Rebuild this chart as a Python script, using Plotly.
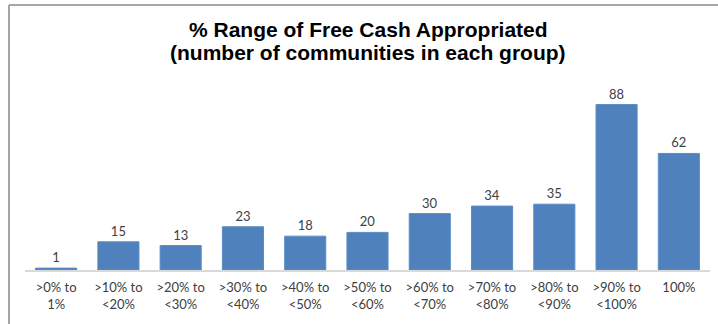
import plotly.graph_objects as go

categories = [">0% to<br>1%", ">10% to<br><20%", ">20% to<br><30%", ">30% to<br><40%",
              ">40% to<br><50%", ">50% to<br><60%", ">60% to<br><70%", ">70% to<br><80%",
              ">80% to<br><90%", ">90% to<br><100%", "100%"]
counts = [1, 15, 13, 23, 18, 20, 30, 34, 35, 88, 62]
title_lines = ["% Range of Free Cash Appropriated", "(number of communities in each group)"]

W, H = 718, 324
L, R, T, B = 25, 8, 82, 54
pw = W - L - R
ph = H - T - B

fig = go.Figure(go.Bar(
    x=categories, y=counts,
    marker=dict(color="#4F81BD", line=dict(color="#5B8CC6", width=1)),
    text=[str(c) for c in counts], textposition="outside",
    textfont=dict(family="Lato, Open Sans, sans-serif", size=13, color="#404040"),
    cliponaxis=False,
))

def px_x(p):
    return (p - L) / pw

def px_y(p):
    return (H - B - p) / ph

annotations = []
for i, line in enumerate(title_lines):
    annotations.append(dict(
        text="<b>" + line + "</b>", xref="paper", yref="paper",
        x=px_x(368), y=px_y(30 + 23 * i), xanchor="center", yanchor="middle",
        showarrow=False,
        font=dict(family="Liberation Sans, Arial, sans-serif", size=21, color="#000000"),
    ))

fig.update_layout(
    width=W, height=H,
    margin=dict(l=L, r=R, t=T, b=B),
    paper_bgcolor="white", plot_bgcolor="white",
    bargap=0.34,
    showlegend=False,
    annotations=annotations,
    xaxis=dict(
        showline=True, linecolor="#D9D9D9", linewidth=1.5,
        ticks="", showgrid=False,
        tickfont=dict(family="Lato, Open Sans, sans-serif", size=13, color="#404040"),
        tickangle=0, ticklabelstandoff=5,
    ),
    yaxis=dict(range=[0, 100], visible=False, showgrid=False),
    shapes=[
        dict(type="line", xref="paper", yref="paper",
             x0=px_x(9), x1=px_x(9), y0=px_y(5), y1=px_y(H + 2),
             line=dict(color="#A6A6A6", width=2)),
        dict(type="line", xref="paper", yref="paper",
             x0=px_x(9), x1=px_x(W + 2), y0=px_y(5), y1=px_y(5),
             line=dict(color="#A6A6A6", width=2)),
    ],
)

fig.write_html("out.html")
